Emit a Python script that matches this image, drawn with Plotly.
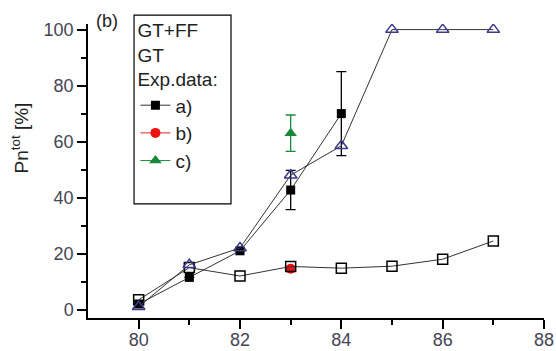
import plotly.graph_objects as go

# ---- data ----
x_model = [80, 81, 82, 83, 84, 85, 86, 87]
gt_ff = [1, 16, 22, 48, 58.5, 100, 100, 100]
gt = [3.5, 15, 12, 15.4, 14.8, 15.5, 18, 24.5]

x_a = [80, 81, 82, 83, 84]
exp_a = [2, 11.5, 21, 42.7, 70]
exp_a_err = [0, 0, 0, 7, 15]

x_b = [83]
exp_b = [14.6]

x_c = [83]
exp_c = [63]
exp_c_err = [6.5]

x_ticks = [80, 82, 84, 86, 88]
y_ticks = [0, 20, 40, 60, 80, 100]

FONT = "Liberation Sans, Arial"
line_col = "#333333"
tick_font = dict(family=FONT, size=18, color="#454555")

fig = go.Figure()

fig.add_trace(go.Scatter(
    x=x_b, y=exp_b, mode="lines+markers", name="b)", legendrank=2,
    line=dict(color="#e02020", width=1),
    marker=dict(symbol="circle", size=10, color="#ee1111"),
))
fig.add_trace(go.Scatter(
    x=x_model, y=gt, mode="lines+markers", name="GT", showlegend=False,
    line=dict(color=line_col, width=1),
    marker=dict(symbol="square-open", size=10, color="black", line=dict(width=1.5)),
))
fig.add_trace(go.Scatter(
    x=x_a, y=exp_a, mode="lines+markers", name="a)", legendrank=1,
    line=dict(color=line_col, width=1),
    marker=dict(symbol="square", size=9, color="black"),
    error_y=dict(type="data", array=exp_a_err, color="black", thickness=1.3, width=5),
))
fig.add_trace(go.Scatter(
    x=x_model, y=gt_ff, mode="lines+markers", name="GT+FF", showlegend=False,
    line=dict(color=line_col, width=1),
    marker=dict(symbol="triangle-up-open", size=11, color="#3c3a8c", line=dict(width=1.5)),
))
fig.add_trace(go.Scatter(
    x=x_c, y=exp_c, mode="lines+markers", name="c)", legendrank=3,
    line=dict(color="#1a8a3a", width=1),
    marker=dict(symbol="triangle-up", size=11, color="#1a8a3a"),
    error_y=dict(type="data", array=exp_c_err, color="#1a8a3a", thickness=1.3, width=5),
))

axis_common = dict(
    showgrid=False, zeroline=False, showline=True, linecolor="black", linewidth=1.5,
    ticks="outside", ticklen=9, tickwidth=1.5, tickcolor="black",
    tickfont=tick_font, automargin=False,
)

fig.update_layout(
    width=556, height=351,
    margin=dict(l=88, r=12, t=22, b=33),
    paper_bgcolor="white", plot_bgcolor="white",
    xaxis=dict(range=[79, 88], tickvals=x_ticks, ticklabelstandoff=-4,
               minor=dict(tickvals=[81, 83, 85, 87], ticks="outside", ticklen=5,
                          tickwidth=1.5, tickcolor="black"),
               **axis_common),
    yaxis=dict(range=[-3, 102], tickvals=y_ticks,
               minor=dict(tickvals=[10, 30, 50, 70, 90], ticks="outside", ticklen=5,
                          tickwidth=1.5, tickcolor="black"),
               **axis_common),
    legend=dict(
        x=0.104, y=1.04, xanchor="left", yanchor="top",
        bgcolor="rgba(0,0,0,0)", borderwidth=0,
        font=dict(family=FONT, size=19, color="#222"),
        title=dict(text="GT+FF<br>GT<br>Exp.data:",
                   font=dict(family=FONT, size=19, color="#222")),
        traceorder="normal",
    ),
    showlegend=True,
)

# legend frame
fig.add_shape(type="rect", xref="paper", yref="paper",
              x0=0.101, x1=0.3136, y0=0.3885, y1=1.03,
              line=dict(color="black", width=1.2))

# y-axis title
fig.add_annotation(text="Pn<sup>tot</sup> [%]", xref="paper", yref="paper",
                   x=-0.149, y=0.611, textangle=-90, showarrow=False,
                   xanchor="center", yanchor="middle",
                   font=dict(family=FONT, size=19, color="#222"))

fig.add_annotation(text="(b)", xref="paper", yref="paper", x=0.042, y=1.01,
                   xanchor="center", yanchor="middle", showarrow=False,
                   font=dict(family=FONT, size=18, color="#222"))

fig.write_html("out.html")
